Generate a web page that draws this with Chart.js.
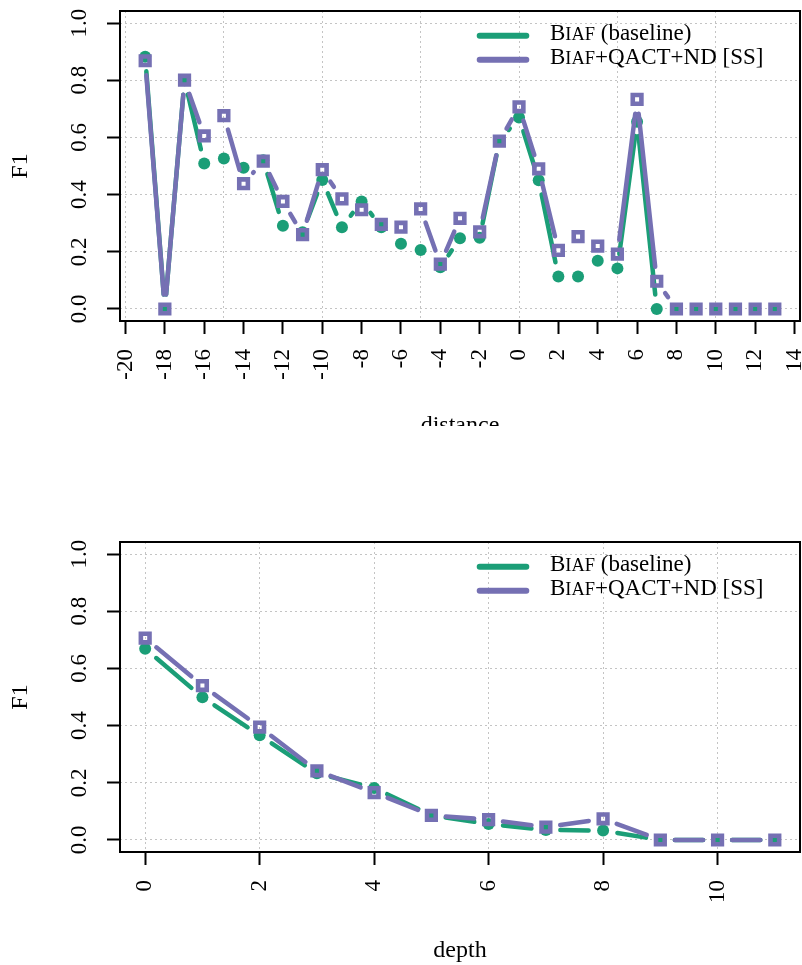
<!DOCTYPE html>
<html>
<head>
<meta charset="utf-8">
<script src="https://cdn.jsdelivr.net/npm/chart.js@4.4.1/dist/chart.umd.min.js"></script>
<style>
  html, body { margin: 0; padding: 0; background: #fff; }
  #page { position: relative; width: 802px; height: 965px; overflow: hidden; }
  #topWrap { position: absolute; left: 0; top: 0; width: 802px; height: 426px; overflow: hidden; }
  #chartDist { position: absolute; left: 0; top: 0; }
  #chartDepth { position: absolute; left: 0; top: 470px; }
</style>
</head>
<body>
<div id="page">
  <div id="topWrap"><canvas id="chartDist" width="802" height="445"></canvas></div>
  <canvas id="chartDepth" width="802" height="495"></canvas>
</div>
<script>
// values
const seriesLabels = ['Biaf (baseline)', 'Biaf+QACT+ND [SS]'];

const distance = [-19,-18,-17,-16,-15,-14,-13,-12,-11,-10,-9,-8,-7,-6,-5,-4,-3,-2,-1,0,1,2,3,4,5,6,7,8,9,10,11,12,13];
const distBaseline = [0.882,0.0,0.80,0.509,0.526,0.494,0.52,0.291,0.268,0.451,0.286,0.376,0.286,0.228,0.206,0.146,
  0.247,0.249,0.587,0.670,0.450,0.114,0.114,0.169,0.142,0.655,0.0,0,0,0,0,0,0];
const distOurs = [0.868,0.0,0.80,0.605,0.676,0.438,0.517,0.376,0.260,0.487,0.385,0.347,0.296,0.286,0.350,0.157,
  0.317,0.270,0.587,0.707,0.490,0.205,0.253,0.220,0.192,0.733,0.097,0,0,0,0,0,0];
const distTickLabels = [-20,-18,-16,-14,-12,-10,-8,-6,-4,-2,0,2,4,6,8,10,12,14];
const distGridLines = [-20,-15,-10,-5,0,5,10];

const depth = [0,1,2,3,4,5,6,7,8,9,10,11];
const depthBaseline = [0.669,0.499,0.366,0.233,0.182,0.086,0.056,0.035,0.033,0,0,0];
const depthOurs = [0.706,0.540,0.395,0.242,0.166,0.086,0.071,0.045,0.074,0,0,0];
const depthTickLabels = [0,2,4,6,8,10];

const f1Ticks = [0.0,0.2,0.4,0.6,0.8,1.0];

const GREEN = '#1b9e77';
const PURPLE = '#7570b3';
const GRID = '#c4c4c4';
const NONE = 'rgba(0,0,0,0)';
const GAP = 14.5; // type="b" style gap around each point

Chart.defaults.font.family = '"Liberation Serif", "Times New Roman", serif';
Chart.defaults.font.size = 23;
Chart.defaults.color = '#000';

function segLen(c){ return Math.hypot(c.p1.x - c.p0.x, c.p1.y - c.p0.y); }

function gappedSegment(color){
  return {
    borderColor: c => segLen(c) > 2*GAP ? color : NONE,
    borderDash: c => { const L = segLen(c); return L > 2*GAP ? [L - 2*GAP, 2*GAP] : []; },
    borderDashOffset: c => { const L = segLen(c); return L > 2*GAP ? L - GAP : 0; }
  };
}

const boxPlugin = {
  id: 'plotBox',
  beforeDatasetsDraw(chart){
    const {ctx, chartArea: a} = chart;
    ctx.save();
    ctx.strokeStyle = '#000';
    ctx.lineWidth = 2;
    ctx.strokeRect(a.left, a.top, a.right - a.left, a.bottom - a.top);
    ctx.restore();
  }
};

const legendPlugin = {
  id: 'cornerLegend',
  afterDatasetsDraw(chart){
    const {ctx, chartArea: a} = chart;
    chart.data.datasets.forEach((ds, i)=>{
      const y = a.top + 24.7 + i*24;
      ctx.save();
      ctx.strokeStyle = ds.borderColor;
      ctx.lineWidth = 6;
      ctx.lineCap = 'round';
      ctx.beginPath();
      ctx.moveTo(a.left + 359.7, y);
      ctx.lineTo(a.left + 406.3, y);
      ctx.stroke();
      // "Biaf" is set in small caps
      const parts = [[ds.label.slice(0,1), 23], [ds.label.slice(1,4).toUpperCase(), 18.4], [ds.label.slice(4), 23]];
      let x = a.left + 430;
      ctx.fillStyle = '#000';
      ctx.textBaseline = 'alphabetic';
      parts.forEach(([t, size])=>{
        ctx.font = `${size}px "Liberation Serif"`;
        ctx.fillText(t, x, y + 4.5);
        x += ctx.measureText(t).width;
      });
      ctx.restore();
    });
  }
};

function noPad(s){ s.paddingLeft = 0; s.paddingRight = 0; s.paddingTop = 0; s.paddingBottom = 0; }

function makeChart(canvas, xs, base, ours, xCfg){
  return new Chart(canvas, {
    type: 'line',
    data: {
      labels: xs,
      datasets: [
        {
          label: seriesLabels[0], data: xs.map((x,i)=>({x, y: base[i]})),
          borderColor: GREEN, borderWidth: 4.5, borderCapStyle: 'round', tension: 0,
          pointStyle: 'circle', pointRadius: 6, pointBorderWidth: 0, pointBackgroundColor: GREEN,
          segment: gappedSegment(GREEN), order: 2
        },
        {
          label: seriesLabels[1], data: xs.map((x,i)=>({x, y: ours[i]})),
          borderColor: PURPLE, borderWidth: 4.5, borderCapStyle: 'round', tension: 0,
          pointStyle: 'rect', pointRadius: 6.1, pointBorderWidth: 4.6,
          pointBorderColor: PURPLE, pointBackgroundColor: NONE,
          segment: gappedSegment(PURPLE), order: 1
        }
      ]
    },
    options: {
      responsive: false,
      animation: false,
      devicePixelRatio: 1,
      layout: { autoPadding: false, padding: { top: xCfg.padTop, right: 2, left: 0, bottom: 0 } },
      plugins: { legend: { display: false }, tooltip: { enabled: false } },
      scales: {
        x: {
          type: 'linear', min: xCfg.min, max: xCfg.max,
          afterBuildTicks: s => { s.ticks = xCfg.ticks.map(v=>({value: v})); },
          afterFit: s => { s.height = xCfg.height; noPad(s); },
          grid: {
            color: c => xCfg.grid.includes(c.tick?.value) ? GRID : NONE,
            tickColor: c => xCfg.labels.includes(c.tick?.value) ? '#000' : NONE,
            tickLength: 13, tickWidth: 2, lineWidth: 1
          },
          border: { display: false, dash: [2,3] },
          ticks: {
            autoSkip: false, minRotation: 90, maxRotation: 90, padding: 15,
            callback: v => xCfg.labels.includes(v) ? String(v) : ''
          },
          title: { display: true, text: xCfg.title, font: { size: 24 }, padding: { top: 0, bottom: xCfg.titlePad } }
        },
        y: {
          min: -0.042, max: 1.042,
          afterBuildTicks: s => { s.ticks = f1Ticks.map(v=>({value: v})); },
          afterFit: s => { s.width = 120; noPad(s); },
          grid: { color: GRID, tickColor: '#000', tickLength: 13, tickWidth: 2, lineWidth: 1 },
          border: { display: false, dash: [2,3] },
          ticks: {
            minRotation: 90, maxRotation: 90, crossAlign: 'center', padding: 12.5,
            callback: v => v.toFixed(1)
          },
          title: { display: true, text: 'F1', font: { size: 24 }, padding: { top: 6, bottom: 0 } }
        }
      }
    },
    plugins: [boxPlugin, legendPlugin]
  });
}

const distTicks = [...new Set([...distTickLabels, ...distGridLines])].sort((a,b)=>a-b);

makeChart(document.getElementById('chartDist'), distance, distBaseline, distOurs, {
  min: -20.28, max: 14.28, ticks: distTicks, labels: distTickLabels, grid: distGridLines,
  height: 124, padTop: 11, title: 'distance', titlePad: 5
});

makeChart(document.getElementById('chartDepth'), depth, depthBaseline, depthOurs, {
  min: -0.44, max: 11.44, ticks: depthTickLabels, labels: depthTickLabels, grid: depthTickLabels,
  height: 113, padTop: 72, title: 'depth', titlePad: 0
});
</script>
</body>
</html>
